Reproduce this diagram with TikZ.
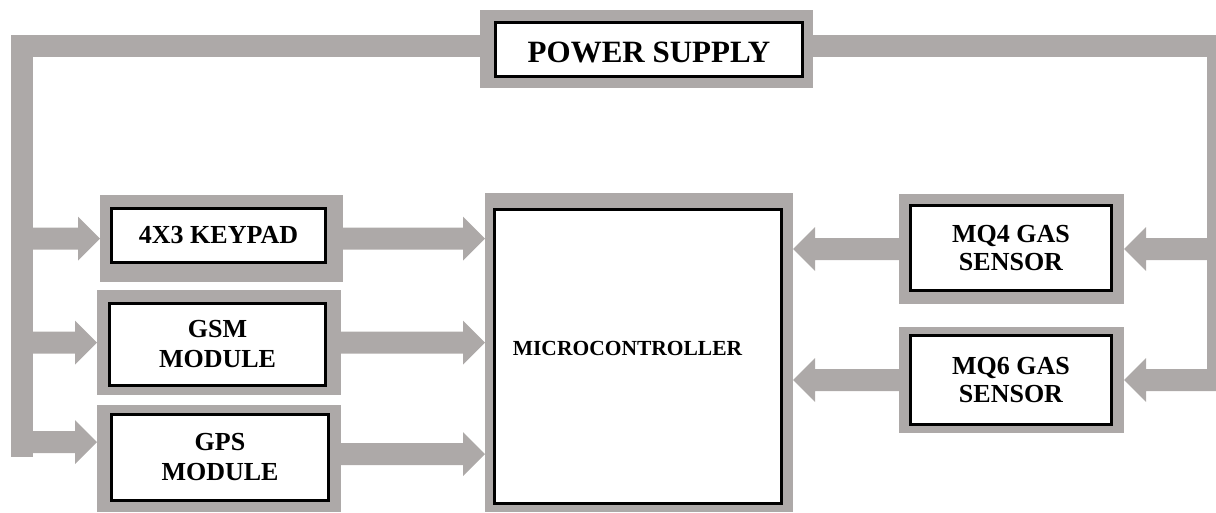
\documentclass[tikz,border=0pt]{standalone}
\usepackage{fontspec}
\setmainfont{Liberation Serif}
\usetikzlibrary{calc}
\definecolor{gry}{RGB}{173,169,168}
% fat horizontal arrow: #1 start (only x used), #2 tip
\newcommand{\fatarrow}[2]{%
  \fill[gry] let \p1=(#1), \p2=(#2), \p3=($(#2)!22pt!(\x1,\y2)$) in
   (\x1,{\y2+11pt}) -- (\x3,{\y2+11pt}) -- (\x3,{\y2+22pt}) -- (\x2,\y2)
   -- (\x3,{\y2-22pt}) -- (\x3,{\y2-11pt}) -- (\x1,{\y2-11pt}) -- cycle;}
\begin{document}
\begin{tikzpicture}[x=1pt,y=-1pt,
  outbox/.style={fill=gry, inner sep=0pt, outer sep=0pt},
  inbox/.style={draw=black, line width=3pt, fill=white, inner sep=0pt, outer sep=0pt,
    align=center, font=\bfseries\fontsize{26}{30}\selectfont},
  sensbox/.style={inbox, font=\bfseries\fontsize{26}{28}\selectfont},
  bus/.style={draw=gry, line width=22pt, line join=miter, line cap=butt}]
\useasboundingbox (0,0) rectangle (1216,512);
\clip (0,0) rectangle (1216,512);
% power supply
\node[outbox, minimum width=333pt, minimum height=78pt] (psu) at (646.5,49) {};
\node[inbox, minimum width=307pt, minimum height=54pt] (psui) at (649,49.5) {};
\node[font=\bfseries\fontsize{31}{36}\selectfont, inner sep=0pt] (psut) at (649,52) {POWER SUPPLY};
% keypad
\node[outbox, minimum width=243pt, minimum height=87pt] (kp) at (221.5,238.5) {};
\node[inbox, minimum width=214pt, minimum height=54pt] (kpi) at (218.5,235.5) {4X3 KEYPAD};
% GSM
\node[outbox, minimum width=244pt, minimum height=105pt] (gsm) at (219,342.5) {};
\node[inbox, minimum width=216pt, minimum height=82pt] (gsmi) at (217.5,344.5) {GSM\\MODULE};
% GPS
\node[outbox, minimum width=244pt, minimum height=107pt] (gps) at (219,458.5) {};
\node[inbox, minimum width=217pt, minimum height=86pt] (gpsi) at (220,457.5) {GPS\\MODULE};
% microcontroller
\node[outbox, minimum width=308pt, minimum height=319pt] (mcu) at (639,352.5) {};
\node[inbox, minimum width=287pt, minimum height=294pt] (mcui) at (638,356.5) {};
\node[font=\bfseries\fontsize{21.5}{24}\selectfont, inner sep=0pt] (mcut) at (627.5,348) {MICROCONTROLLER};
% sensors
\node[outbox, minimum width=225pt, minimum height=110pt] (mq4) at (1011.5,249) {};
\node[sensbox, minimum width=201pt, minimum height=85pt] (mq4i) at (1011,248) {MQ4 GAS\\SENSOR};
\node[outbox, minimum width=225pt, minimum height=106pt] (mq6) at (1011.5,380) {};
\node[sensbox, minimum width=201pt, minimum height=89pt] (mq6i) at (1011,380) {MQ6 GAS\\SENSOR};
% power bus
\coordinate (lbus) at (21.5,46);
\coordinate (rbus) at (1218,46);
\coordinate (lbusend) at (21.5,457);
\coordinate (rbusend) at (1218,380);
\draw[bus] (psu.west |- lbus) -- (lbus) -- (lbusend);
\draw[bus] (psu.east |- rbus) -- (rbus) -- (rbusend);
\coordinate (gpsin) at (gps.west |- 0,442);
% power feeds
\fatarrow{lbus}{kp.west}
\fatarrow{lbus}{gsm.west}
\fatarrow{lbus}{gpsin}
\fatarrow{rbus}{mq4.east}
\fatarrow{rbus}{mq6.east}
% data to microcontroller
\coordinate (gpsout) at (gps.east |- 0,454);
\fatarrow{kp.east}{mcu.west |- kp.east}
\fatarrow{gsm.east}{mcu.west |- gsm.east}
\fatarrow{gpsout}{mcu.west |- gpsout}
\fatarrow{mq4.west}{mcu.east |- mq4.west}
\fatarrow{mq6.west}{mcu.east |- mq6.west}
\end{tikzpicture}
\end{document}
